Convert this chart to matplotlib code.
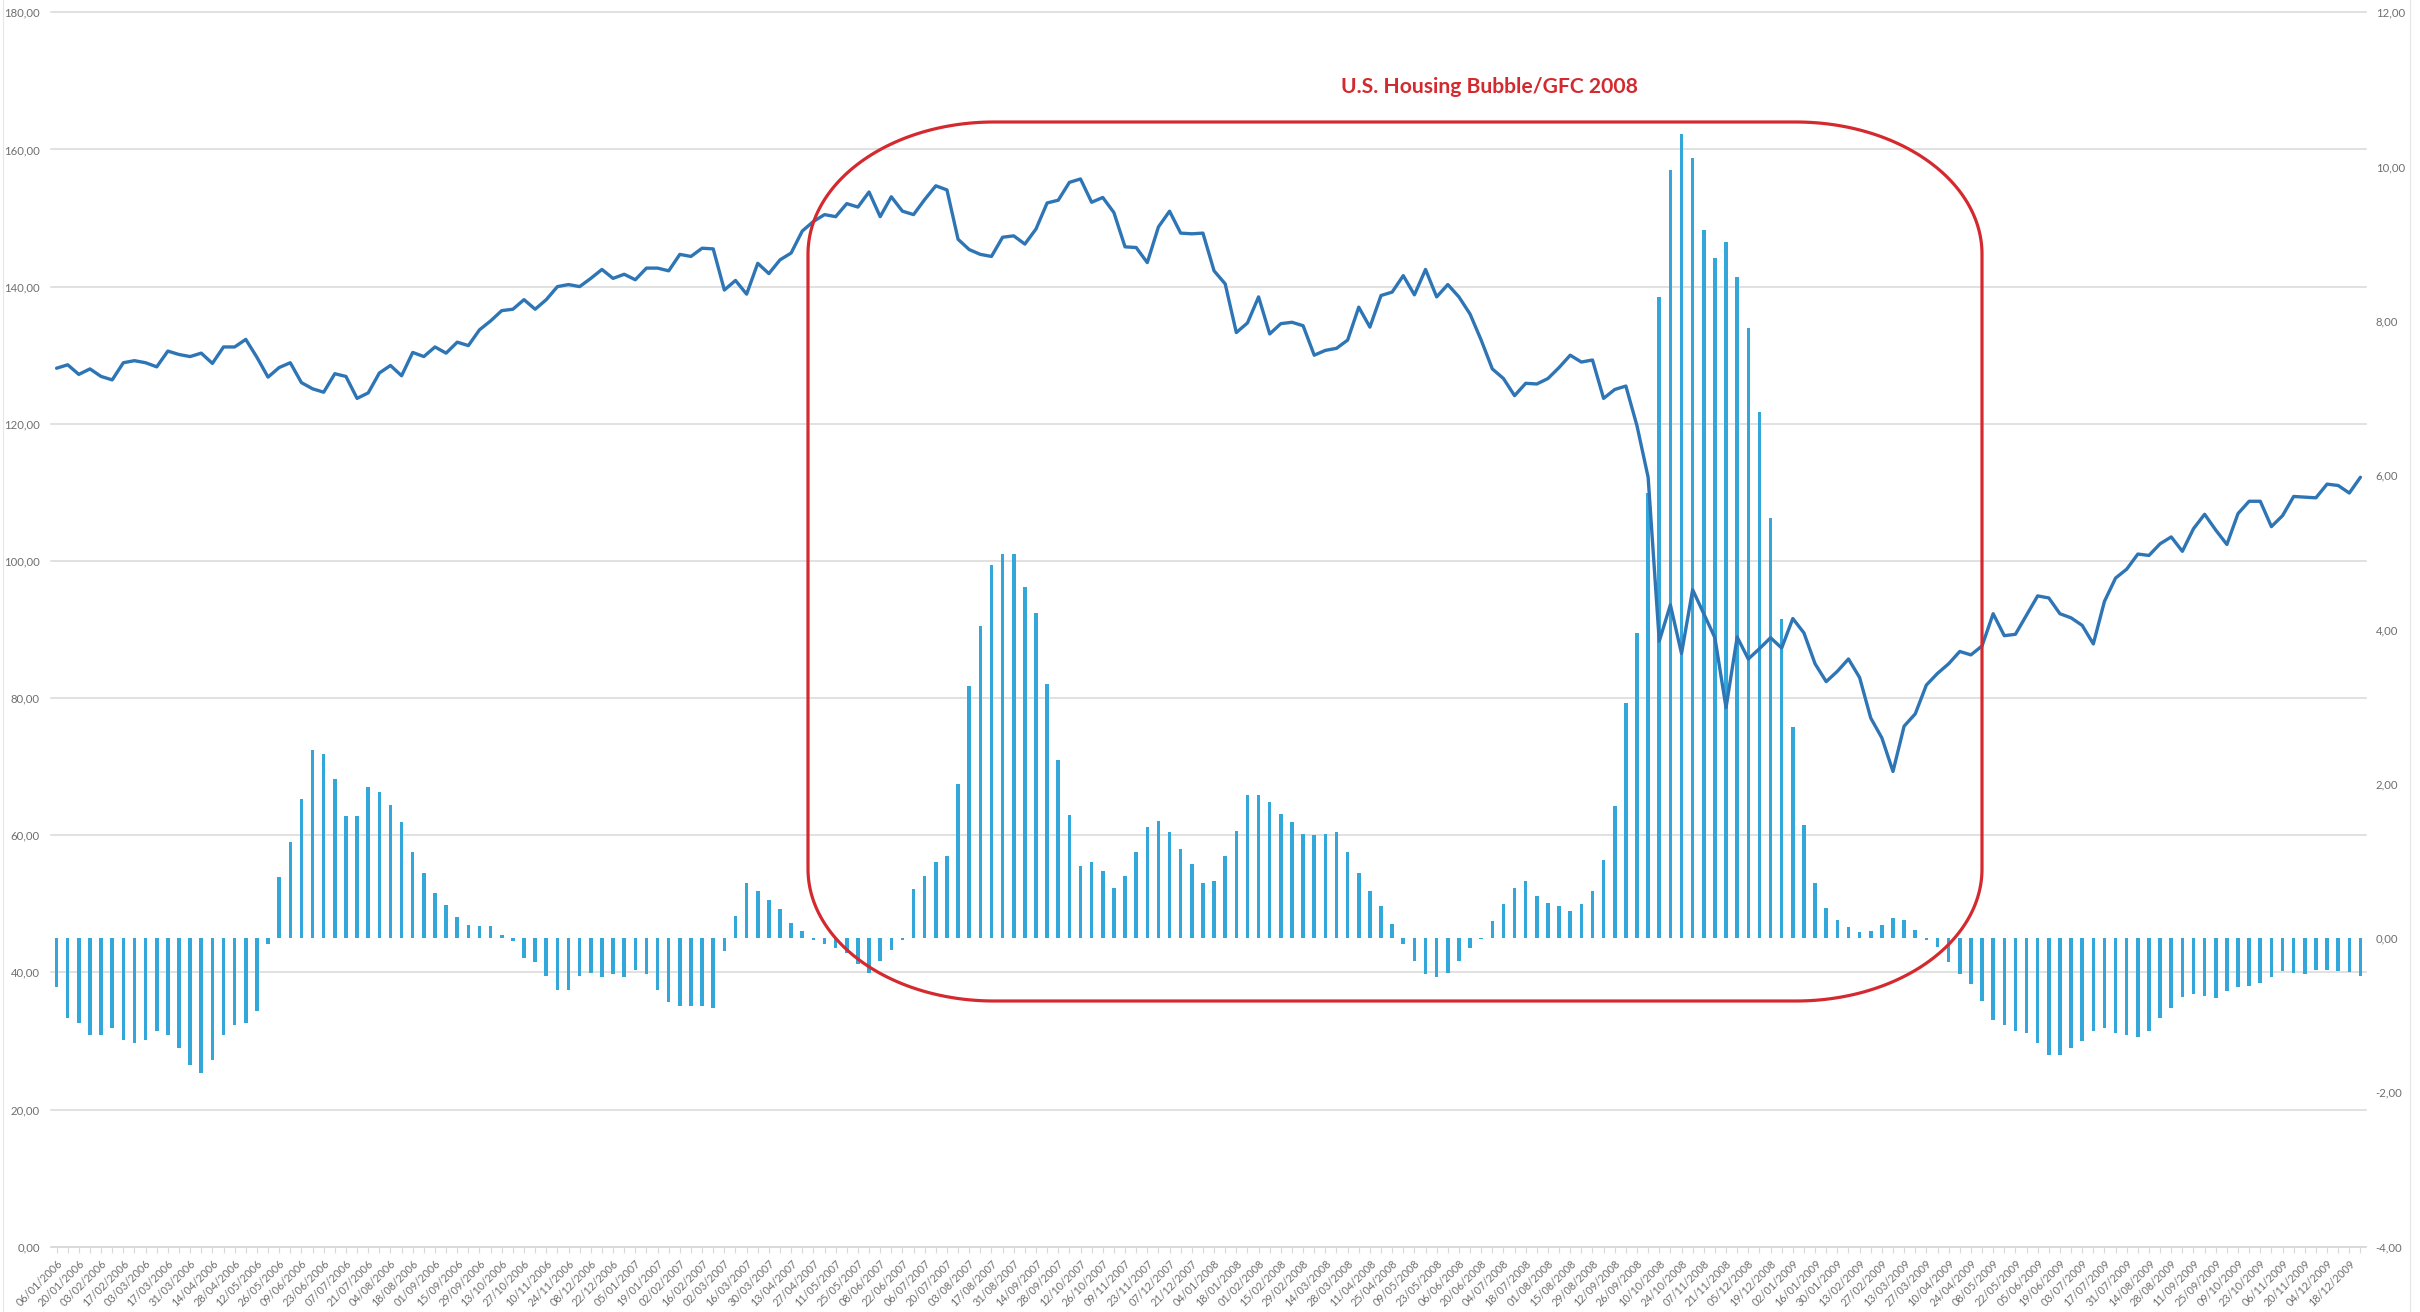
import numpy as np
import pandas as pd
import matplotlib
matplotlib.use("Agg")
import matplotlib.pyplot as plt
from matplotlib.path import Path
from matplotlib.patches import PathPatch, Rectangle

# ---------------- data ----------------
dates = pd.date_range("2006-01-06", periods=208, freq="7D")
date_labels = [d.strftime("%d/%m/%Y") for d in dates]

price = [
    128.1, 128.6, 127.2, 128.0, 126.9, 126.4, 128.9, 129.2, 128.9, 128.3,
    130.6, 130.1, 129.8, 130.3, 128.8, 131.2, 131.2, 132.3, 129.7, 126.8,
    128.2, 128.9, 126.0, 125.1, 124.6, 127.3, 126.9, 123.7, 124.5, 127.4,
    128.5, 127.0, 130.4, 129.8, 131.2,
    130.3, 131.9, 131.4, 133.7, 135.0, 136.5, 136.7, 138.1, 136.7, 138.1,
    140.0, 140.3, 140.0, 141.2, 142.5, 141.2, 141.8, 141.0, 142.7, 142.7,
    142.3, 144.7, 144.4, 145.6, 145.5, 139.5, 140.9, 138.9, 143.4, 141.9,
    143.9, 144.9, 148.1, 149.5, 150.5,
    150.2, 152.1, 151.6, 153.8, 150.2, 153.1, 151.0, 150.5, 152.7, 154.7,
    154.1, 146.9, 145.4, 144.7, 144.4, 147.2, 147.4, 146.2, 148.4, 152.2,
    152.6, 155.2, 155.7, 152.3, 153.0, 150.8, 145.8, 145.7, 143.5, 148.7,
    151.0, 147.8, 147.7, 147.8,
    142.3, 140.4, 133.3, 134.7, 138.5, 133.1, 134.6, 134.8, 134.3, 130.0,
    130.7, 131.0, 132.2, 137.0, 134.1, 138.7, 139.2, 141.6, 138.8, 142.5,
    138.5, 140.3, 138.5, 136.0, 132.2, 128.0, 126.6, 124.1, 125.9, 125.8,
    126.6, 128.2, 130.0, 129.0,
    129.3, 123.7, 125.0, 125.5, 119.7, 112.2, 88.3, 93.6, 86.5, 95.8,
    92.3, 88.8, 78.6, 88.9, 85.7, 87.2, 88.8, 87.3, 91.6, 89.5,
    85.0, 82.4, 83.9, 85.7, 83.0, 77.1, 74.2, 69.3, 75.9, 77.7,
    81.9, 83.6, 85.0, 86.8,
    86.3, 87.6, 92.3, 89.1, 89.3, 92.1, 94.9, 94.6, 92.3, 91.7,
    90.6, 87.9, 94.1, 97.5, 98.8, 101.0, 100.8, 102.5, 103.5, 101.4,
    104.7, 106.8, 104.5, 102.4, 106.9, 108.7, 108.7, 105.0, 106.6, 109.4,
    109.3, 109.2, 111.2, 111.0, 109.9, 112.2,
]

change = [
    -0.64, -1.04, -1.10, -1.26, -1.25, -1.17, -1.32, -1.36, -1.32, -1.21,
    -1.26, -1.42, -1.65, -1.75, -1.58, -1.26, -1.12, -1.10, -0.95, -0.07,
    0.79, 1.24, 1.80, 2.44, 2.38, 2.06, 1.58, 1.58, 1.96, 1.89,
    1.72, 1.51, 1.12, 0.85, 0.59,
    0.43, 0.27, 0.17, 0.16, 0.16, 0.04, -0.04, -0.26, -0.31, -0.49,
    -0.67, -0.67, -0.49, -0.45, -0.50, -0.47, -0.51, -0.41, -0.47, -0.67,
    -0.83, -0.88, -0.88, -0.88, -0.91, -0.17, 0.29, 0.72, 0.61, 0.50,
    0.38, 0.20, 0.09, -0.03,
    -0.08, -0.13, -0.19, -0.34, -0.45, -0.30, -0.16, -0.02, 0.63, 0.80,
    0.98, 1.06, 2.00, 3.27, 4.05, 4.83, 4.98, 4.98, 4.55, 4.22,
    3.30, 2.31, 1.59, 0.93, 0.99, 0.87, 0.65, 0.81, 1.11, 1.44,
    1.52, 1.37, 1.15, 0.96, 0.72,
    0.74, 1.06, 1.39, 1.86, 1.86, 1.76, 1.61, 1.50, 1.35, 1.33,
    1.35, 1.37, 1.12, 0.85, 0.61, 0.41, 0.18, -0.08, -0.30, -0.47,
    -0.50, -0.45, -0.30, -0.13, -0.01, 0.22, 0.44, 0.65, 0.74, 0.54,
    0.46, 0.41, 0.35, 0.44,
    0.61, 1.01, 1.71, 3.05, 3.96, 5.77, 8.31, 9.95, 10.42, 10.11,
    9.18, 8.81, 9.02, 8.57, 7.91, 6.82, 5.45, 4.13, 2.74, 1.46,
    0.71, 0.39, 0.24, 0.15, 0.08, 0.09, 0.17, 0.26, 0.24, 0.10,
    -0.02, -0.12, -0.31, -0.47,
    -0.60, -0.81, -1.06, -1.13, -1.20, -1.23, -1.36, -1.51, -1.52, -1.43,
    -1.34, -1.20, -1.17, -1.23, -1.26, -1.28, -1.20, -1.04, -0.91, -0.76,
    -0.72, -0.75, -0.77, -0.69, -0.64, -0.62, -0.58, -0.50, -0.42, -0.45,
    -0.46, -0.41, -0.41, -0.42, -0.44, -0.49,
]

left_ticks = [0, 20, 40, 60, 80, 100, 120, 140, 160, 180]
right_ticks = [-4, -2, 0, 2, 4, 6, 8, 10, 12]
annotation_text = "U.S. Housing Bubble/GFC 2008"

# ---------------- styling ----------------
W, H = 2420, 1312
LINE_COLOR = "#2e75b6"
BAR_COLOR = "#33a6da"
GRID_COLOR = "#d9d9d9"
TEXT_COLOR = "#6f6f6f"
RED = "#d42a2f"
FONT = ["Lato", "DejaVu Sans"]
plt.rcParams["font.family"] = FONT

def fmt(v):
    return f"{v:.2f}".replace(".", ",")

fig = plt.figure(figsize=(W / 100, H / 100), dpi=100)
fig.patch.set_facecolor("white")

ax_left, ax_right_px, ax_top, ax_bot = 51, 2366, 12.3, 1246.7
ax_bar = fig.add_axes([ax_left / W, (H - ax_bot) / H,
                       (ax_right_px - ax_left) / W, (ax_bot - ax_top) / H])
ax_line = ax_bar.twinx()

n = len(price)
x = np.arange(n)
ax_bar.set_xlim(-0.5, n - 0.5)
ax_bar.set_ylim(right_ticks[0], right_ticks[-1])
ax_line.set_ylim(left_ticks[0], left_ticks[-1])

# gridlines (left axis values) drawn beneath the bars
for v in left_ticks:
    ax_bar.plot([-0.5, n - 0.5], [v, v], transform=ax_line.transData,
                color=GRID_COLOR, lw=1.1, zorder=0, clip_on=False)

ax_bar.bar(x, change, width=0.32, color=BAR_COLOR, zorder=2, linewidth=0)
ax_line.plot(x, price, color=LINE_COLOR, lw=2.4, solid_joinstyle="round",
             solid_capstyle="round", zorder=3)

# y axes
ax_bar.yaxis.set_ticks_position("right")
ax_line.yaxis.set_ticks_position("left")
ax_bar.set_yticks(right_ticks)
ax_bar.set_yticklabels([fmt(v) for v in right_ticks])
ax_line.set_yticks(left_ticks)
ax_line.set_yticklabels([fmt(v) for v in left_ticks])
ax_bar.tick_params(axis="y", length=0, pad=7, labelsize=8.2, labelcolor=TEXT_COLOR)
ax_line.tick_params(axis="y", length=0, pad=8, labelsize=8.2, labelcolor=TEXT_COLOR)

# x axis
ax_bar.set_xticks(x[::2])
ax_bar.set_xticklabels(date_labels[::2], rotation=45, ha="right",
                       rotation_mode="anchor")
ax_bar.set_xticks(x[1::2], minor=True)
ax_bar.tick_params(axis="x", which="both", length=4, width=0.8, color=GRID_COLOR,
                   labelsize=7.8, labelcolor=TEXT_COLOR, pad=4)
ax_line.tick_params(axis="x", which="both", length=0)

for ax in (ax_bar, ax_line):
    for s in ax.spines.values():
        s.set_visible(False)
ax_bar.spines["bottom"].set_visible(True)
ax_bar.spines["bottom"].set_color(GRID_COLOR)
ax_bar.spines["bottom"].set_linewidth(1.1)

# ---------------- annotation (rounded box) ----------------
def rounded_rect_path(x0, y0, x1, y1, rx, ry, k=60):
    t = np.linspace(0, np.pi / 2, k)
    pts = []
    cx, cy = x1 - rx, y0 + ry
    pts += list(zip(cx + rx * np.sin(t), cy - ry * np.cos(t)))
    cx, cy = x1 - rx, y1 - ry
    pts += list(zip(cx + rx * np.cos(t), cy + ry * np.sin(t)))
    cx, cy = x0 + rx, y1 - ry
    pts += list(zip(cx - rx * np.sin(t), cy + ry * np.cos(t)))
    cx, cy = x0 + rx, y0 + ry
    pts += list(zip(cx - rx * np.cos(t), cy - ry * np.sin(t)))
    pts.append(pts[0])
    verts = [(px / W, 1 - py / H) for px, py in pts]
    codes = [Path.MOVETO] + [Path.LINETO] * (len(verts) - 2) + [Path.CLOSEPOLY]
    return Path(verts, codes)

box = PathPatch(rounded_rect_path(808, 122, 1982, 1001, 186, 132),
                transform=fig.transFigure, facecolor="none", edgecolor=RED,
                lw=2.3, zorder=10)
fig.add_artist(box)

fig.text(1490 / W, 1 - 93 / H, annotation_text, ha="center", va="baseline",
         color=RED, fontsize=15.2, fontweight="bold", family=FONT)

# faint chart-area border
fig.add_artist(Rectangle((2.5 / W, -0.01), (2410 - 2.5) / W, 1.02,
                         transform=fig.transFigure, facecolor="none",
                         edgecolor="#e6e6e6", lw=0.8))

fig.savefig("out.png", dpi=100, facecolor="white")
